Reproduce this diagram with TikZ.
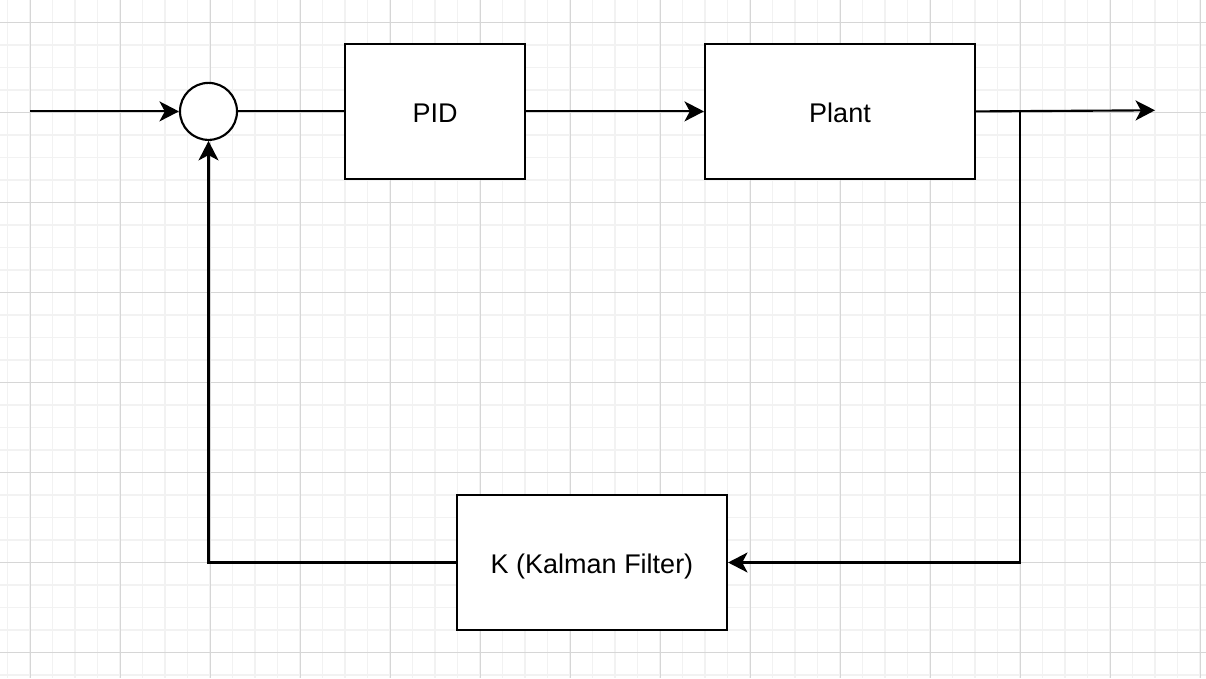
\documentclass[tikz,border=0pt]{standalone}
\usepackage{fontspec}
\setmainfont{Liberation Sans}
\usetikzlibrary{arrows.meta}
\definecolor{minorgrid}{HTML}{F2F2F2}
\definecolor{majorgrid}{HTML}{D6D6D6}
\begin{document}
\begin{tikzpicture}[x=0.75pt,y=-0.75pt,
  blk/.style={draw=black, line width=1.6pt, fill=white, rectangle, text height=19pt, text depth=3pt, font=\fontsize{20.25pt}{24pt}\selectfont},
  conn/.style={line width=1.6pt, draw=black},
  arr/.style={conn, -{Stealth[length=14.6pt, width=15pt, inset=4pt]}}]
\useasboundingbox (0,0) rectangle (1206,678);
\fill[white] (0,0) rectangle (1206,678);
% minor grid
\foreach \i in {0,...,53} {
  \draw[minorgrid, line width=1.2pt] ({7.5+22.5*\i},0) -- ({7.5+22.5*\i},678);
}
\foreach \j in {1,...,30} {
  \draw[minorgrid, line width=1.2pt] (0,{22.5*\j}) -- (1206,{22.5*\j});
}
% major grid
\foreach \i in {0,...,13} {
  \draw[majorgrid, line width=0.7pt] ({30+90*\i},0) -- ({30+90*\i},678);
}
\foreach \j in {0,...,7} {
  \draw[majorgrid, line width=0.7pt] (0,{22.5+90*\j}) -- (1206,{22.5+90*\j});
}
% blocks
\node[blk, minimum width=135pt, minimum height=100.9pt] (pid) at (435,111.4) {PID};
\node[blk, minimum width=202.5pt, minimum height=100.9pt] (plant) at (840,111.4) {Plant};
\node[blk, minimum width=202.5pt, minimum height=101.25pt] (kal) at (592,562.5) {K (Kalman Filter)};
\node[draw=black, line width=1.6pt, fill=white, circle, minimum size=42.75pt, inner sep=0pt] (sum) at (208.5,111.4) {};
% connectors
\coordinate (in) at (30,111.4);
\coordinate (out) at (1155,110.3);
\coordinate (br) at (1020,112);
\draw[arr] (in) -- (sum.west);
\draw[conn] (sum.east) -- (pid.west);
\draw[arr] (pid.east) -- (plant.west);
\draw[arr] (plant.east) -- (out);
\draw[arr] (br) |- (kal.east);
\draw[arr] (kal.west) -| (sum.south);
\end{tikzpicture}
\end{document}
